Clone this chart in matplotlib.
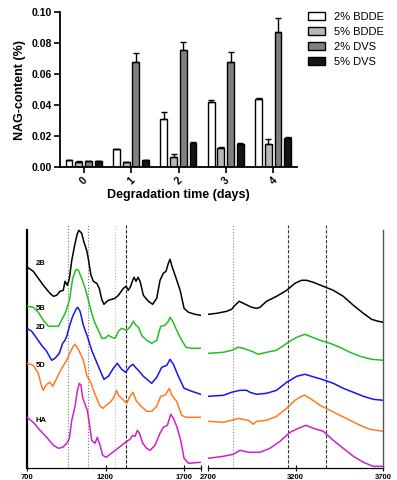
import numpy as np
import matplotlib
matplotlib.use("Agg")
import matplotlib.pyplot as plt

plt.rcParams['font.family'] = ['Liberation Sans', 'DejaVu Sans']

# --- NAG content bar chart ---
days = ['0', '1', '2', '3', '4']
groups = ['2% BDDE', '5% BDDE', '2% DVS', '5% DVS']
nag_2bdde = [0.0045, 0.0114, 0.031, 0.0418, 0.0442]
nag_5bdde = [0.0034, 0.0032, 0.0067, 0.0125, 0.0151]
nag_2dvs = [0.0039, 0.068, 0.0756, 0.068, 0.0875]
nag_5dvs = [0.0039, 0.0043, 0.0153, 0.0151, 0.0187]
err_2bdde = [0.0003, 0.0003, 0.0047, 0.0012, 0.0004]
err_5bdde = [0.0003, 0.0002, 0.0018, 0.0004, 0.0028]
err_2dvs = [0.0003, 0.006, 0.005, 0.0066, 0.0086]
err_5dvs = [0.0003, 0.0003, 0.0006, 0.0006, 0.0007]
bar_colors = ['white', '#b8b8b8', '#808080', '#151515']

# --- FTIR spectra (wavenumber cm-1, absorbance a.u.) ---
labels = ['2B', '5B', '2D', '5D', 'HA']
line_colors = ['black', '#22c022', '#1515ee', '#ff7a20', '#cc22cc']

spec_2b_low = [(702, 201), (740, 197), (772, 190), (804, 183), (846, 175), (868, 172), (889, 173),
               (910, 177), (931, 178), (942, 187), (957, 183), (970, 190), (985, 208), (1006, 225),
               (1021, 235), (1031, 238), (1048, 235), (1063, 226), (1080, 218), (1091, 209),
               (1106, 194), (1122, 187), (1144, 185), (1160, 180), (1176, 169), (1190, 164),
               (1203, 166), (1218, 168), (1240, 169), (1260, 170), (1282, 173), (1314, 180),
               (1331, 182), (1345, 178), (1360, 182), (1373, 188), (1382, 191), (1394, 187),
               (1407, 191), (1420, 187), (1441, 173), (1473, 167), (1500, 164), (1526, 170),
               (1547, 188), (1568, 195), (1585, 197), (1600, 205), (1611, 209), (1621, 203),
               (1643, 193), (1675, 178), (1700, 160), (1728, 156), (1770, 154), (1806, 153)]
spec_2b_high = [(2700, 154), (2748, 155), (2805, 157), (2833, 159), (2852, 163), (2877, 167),
                (2900, 165), (2948, 161), (2976, 160), (2995, 161), (3033, 167), (3090, 172),
                (3148, 178), (3195, 185), (3233, 188), (3262, 188), (3300, 186), (3357, 182),
                (3414, 178), (3471, 172), (3529, 163), (3586, 155), (3633, 149), (3671, 147),
                (3700, 146)]
spec_5b_low = [(702, 162), (740, 161), (772, 156), (804, 148), (836, 142), (868, 142), (900, 142),
               (927, 150), (948, 157), (970, 168), (991, 190), (1012, 199), (1027, 198), (1048, 190),
               (1070, 180), (1091, 168), (1112, 155), (1133, 145), (1155, 138), (1176, 130),
               (1197, 130), (1218, 133), (1240, 131), (1261, 130), (1282, 137), (1303, 140),
               (1335, 138), (1360, 142), (1377, 147), (1394, 143), (1410, 141), (1430, 133),
               (1462, 128), (1494, 125), (1526, 128), (1551, 142), (1579, 143), (1600, 147),
               (1611, 151), (1628, 147), (1653, 138), (1685, 128), (1713, 121), (1749, 120),
               (1806, 120)]
spec_5b_high = [(2700, 115), (2786, 116), (2833, 118), (2871, 121), (2900, 120), (2948, 117),
                (2986, 114), (3033, 116), (3090, 118), (3148, 125), (3205, 131), (3252, 134),
                (3281, 132), (3338, 128), (3395, 125), (3452, 121), (3510, 116), (3567, 112),
                (3633, 109), (3700, 108)]
spec_2d_low = [(700, 140), (730, 137), (762, 130), (793, 123), (825, 117), (857, 108), (878, 110),
               (906, 115), (927, 125), (942, 128), (953, 132), (970, 142), (991, 152), (1012, 159),
               (1023, 161), (1038, 157), (1059, 143), (1084, 132), (1112, 118), (1133, 110),
               (1165, 98), (1190, 89), (1218, 92), (1250, 100), (1275, 105), (1303, 99),
               (1328, 96), (1356, 102), (1375, 104), (1390, 101), (1409, 98), (1441, 92),
               (1494, 85), (1526, 91), (1558, 101), (1590, 103), (1611, 109), (1632, 104),
               (1664, 92), (1700, 80), (1749, 77), (1806, 74)]
spec_2d_high = [(2700, 72), (2786, 73), (2833, 76), (2881, 78), (2919, 78), (2938, 76), (2976, 74),
                (3033, 75), (3090, 78), (3148, 86), (3205, 92), (3252, 94), (3290, 92), (3348, 89),
                (3414, 85), (3471, 80), (3529, 76), (3586, 72), (3643, 69), (3700, 68)]
spec_5d_low = [(700, 105), (740, 103), (772, 95), (793, 82), (803, 78), (825, 84), (846, 86),
               (864, 82), (889, 90), (921, 100), (953, 108), (974, 116), (995, 122), (1006, 124),
               (1027, 119), (1059, 108), (1080, 93), (1105, 86), (1133, 74), (1165, 62), (1185, 60),
               (1203, 63), (1229, 66), (1250, 70), (1271, 78), (1282, 73), (1303, 70), (1335, 65),
               (1356, 72), (1375, 76), (1394, 68), (1420, 63), (1462, 57), (1494, 57), (1526, 62),
               (1551, 72), (1579, 73), (1607, 80), (1622, 73), (1653, 67), (1685, 53), (1713, 51),
               (1806, 51)]
spec_5d_high = [(2700, 47), (2786, 46), (2833, 48), (2871, 50), (2895, 49), (2929, 48), (2957, 44),
                (2976, 47), (3033, 48), (3090, 52), (3148, 60), (3195, 68), (3233, 72), (3252, 73),
                (3281, 70), (3338, 63), (3395, 58), (3452, 53), (3510, 48), (3567, 43), (3624, 39),
                (3700, 37)]
spec_ha_low = [(700, 51), (740, 46), (783, 38), (825, 31), (868, 23), (900, 20), (927, 21),
               (953, 25), (970, 30), (985, 48), (1006, 62), (1021, 78), (1033, 85), (1044, 83),
               (1055, 70), (1070, 64), (1084, 58), (1095, 47), (1112, 28), (1133, 25), (1148, 31),
               (1165, 23), (1182, 13), (1203, 11), (1229, 14), (1271, 19), (1303, 23), (1335, 27),
               (1356, 29), (1373, 33), (1388, 32), (1403, 38), (1416, 35), (1437, 25), (1462, 20),
               (1484, 18), (1515, 23), (1547, 35), (1568, 41), (1594, 43), (1615, 54), (1632, 50),
               (1653, 42), (1679, 28), (1700, 10), (1728, 5), (1806, 6)]
spec_ha_high = [(2700, 10), (2786, 12), (2843, 14), (2881, 18), (2929, 16), (2995, 16), (3052, 20),
                (3110, 27), (3167, 36), (3214, 40), (3258, 43), (3300, 40), (3357, 37), (3414, 28),
                (3471, 20), (3529, 12), (3586, 6), (3643, 2), (3700, 2)]
label_heights = [205, 160, 141, 103, 48]

marker_lines_low = [963, 1091, 1260, 1331]
marker_lines_high = [2839, 3157, 3372]

W, H = 397, 480
fig = plt.figure(figsize=(W / 100, H / 100), dpi=100)

# ---------------- top: bar chart ----------------
ax = fig.add_axes([60 / W, (H - 167) / H, 237 / W, 154.7 / H])
x = np.arange(len(days))
vals = [nag_2bdde, nag_5bdde, nag_2dvs, nag_5dvs]
errs = [err_2bdde, err_5bdde, err_2dvs, err_5dvs]
offsets = [-0.31, -0.105, 0.1, 0.305]
for i in range(4):
    ax.bar(x + offsets[i], vals[i], width=0.145, color=bar_colors[i], edgecolor='black',
           linewidth=1.0, label=groups[i], zorder=2)
    ax.errorbar(x + offsets[i], vals[i], yerr=[np.zeros(5), errs[i]], fmt='none',
                ecolor='black', elinewidth=1.0, capsize=2, capthick=1.0, zorder=3)
ax.set_xlim(-0.5, 4.5)
ax.set_ylim(0, 0.10)
ax.set_yticks(np.arange(0, 0.101, 0.02))
ax.set_yticklabels(['%.2f' % v for v in np.arange(0, 0.101, 0.02)], fontsize=7.5, fontweight='bold')
ax.set_xticks(x)
ax.set_xticklabels(days, fontsize=7.5, fontweight='bold', rotation=45)
ax.spines['top'].set_visible(False)
ax.spines['right'].set_visible(False)
ax.spines['left'].set_linewidth(1.3)
ax.spines['bottom'].set_linewidth(1.3)
ax.tick_params(direction='out', length=4, width=1.2, pad=2)
ax.set_ylabel('NAG-content (%)', fontsize=9, fontweight='bold', labelpad=4)
ax.set_xlabel('Degradation time (days)', fontsize=9, fontweight='bold', labelpad=2)
fig.legend(loc='upper left', bbox_to_anchor=(308 / W, 1 - 12 / H), frameon=False, fontsize=8,
           handlelength=1.5, handleheight=0.75, handletextpad=0.8, labelspacing=0.45,
           borderaxespad=0, borderpad=0)

# ---------------- bottom: spectra ----------------
bottom = (H - 468.3) / H
height = 243.3 / H
ax1 = fig.add_axes([27 / W, bottom, 173.7 / W, height])
ax2 = fig.add_axes([208.3 / W, bottom, 175 / W, height])
lows = [spec_2b_low, spec_5b_low, spec_2d_low, spec_5d_low, spec_ha_low]
highs = [spec_2b_high, spec_5b_high, spec_2d_high, spec_5d_high, spec_ha_high]
for lab, col, lo, hi in zip(labels, line_colors, lows, highs):
    lo = np.array(lo)
    hi = np.array(hi)
    ax1.plot(lo[:, 0], lo[:, 1], color=col, lw=1.1, zorder=3)
    ax2.plot(hi[:, 0], hi[:, 1], color=col, lw=1.1, zorder=3)
for lab, yh in zip(labels, label_heights):
    ax1.text(757, yh, lab, fontsize=5.5, fontweight='bold', va='center', ha='left')

styles_low = [(':', '#777777'), (':', '#777777'), (':', '#bbbbbb'), ((0, (3, 1.5)), '#222222')]
for wx, (ls, c) in zip(marker_lines_low, styles_low):
    ax1.axvline(wx, color=c, ls=ls, lw=0.8, zorder=1)
styles_high = [(':', '#888888'), ((0, (3, 1.5)), '#333333'), ((0, (3, 1.5)), '#333333')]
for wx, (ls, c) in zip(marker_lines_high, styles_high):
    ax2.axvline(wx, color=c, ls=ls, lw=0.8, zorder=1)

ax1.set_xlim(700, 1806)
ax2.set_xlim(2700, 3700)
for a in (ax1, ax2):
    a.set_ylim(0, 243.3)
    a.set_yticks([])
    a.spines['top'].set_visible(False)
    a.spines['bottom'].set_linewidth(0.9)
    a.tick_params(axis='x', direction='inout', length=4, width=0.8, pad=2, labelsize=5.5)
    for t in a.get_xticklabels():
        t.set_fontweight('bold')
ax1.spines['right'].set_visible(False)
ax1.spines['left'].set_linewidth(1.6)
ax1.spines['left'].set_bounds(0, 238)
ax2.spines['left'].set_visible(False)
ax2.spines['right'].set_linewidth(1.0)
ax2.spines['right'].set_color('#555555')
ax2.spines['right'].set_bounds(0, 238)
ax1.set_xticks([700, 1200, 1700, 1806])
ax1.set_xticklabels(['700', '1200', '1700', ''], fontsize=5.5, fontweight='bold')
ax2.set_xticks([2700, 3200, 3700])
ax2.set_xticklabels(['2700', '3200', '3700'], fontsize=5.5, fontweight='bold')

fig.savefig('out.png', dpi=100)
